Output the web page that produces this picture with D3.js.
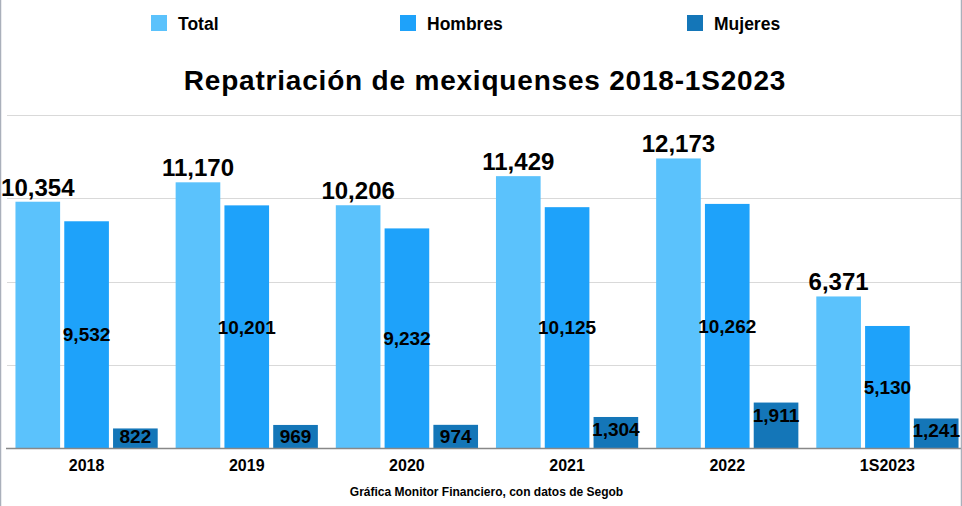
<!DOCTYPE html>
<html>
<head>
<meta charset="utf-8">
<script src="https://cdn.jsdelivr.net/npm/d3@7"></script>
<style>
  html, body { margin: 0; padding: 0; background: #fff; }
  svg { display: block; }
  text { font-family: "Liberation Sans", Arial, sans-serif; font-weight: bold; fill: #000; }
</style>
</head>
<body>
<svg id="chart" width="962" height="506"></svg>
<script>
const categories = ["2018", "2019", "2020", "2021", "2022", "1S2023"];
const seriesNames = ["Total", "Hombres", "Mujeres"];
const total   = [10354, 11170, 10206, 11429, 12173, 6371];
const hombres = [9532, 10201, 9232, 10125, 10262, 5130];
const mujeres = [822, 969, 974, 1304, 1911, 1241];
const yTicks  = [0, 3500, 7000, 10500, 14000];
const colors  = ["#5BC2FC", "#1EA2FA", "#1476B8"];
const title   = "Repatriación de mexiquenses 2018-1S2023";
const source  = "Gráfica Monitor Financiero, con datos de Segob";

const W = 962, H = 506;
const svg = d3.select("#chart");
const fmt = d3.format(",");

const plotLeft = 6.5, plotRight = 967.5, plotTop = 115, plotBottom = 448;

const x0 = d3.scaleBand().domain(categories).range([plotLeft, plotRight]).paddingInner(0.112).paddingOuter(0.056);
const x1 = d3.scaleBand().domain(seriesNames).range([0, x0.bandwidth()]).paddingInner(0.085);
const y = d3.scaleLinear().domain([0, 14000]).range([plotBottom, plotTop]);

const data = categories.map((c, i) => ({ cat: c, values: [total[i], hombres[i], mujeres[i]] }));

svg.append("defs").append("clipPath").attr("id", "clip")
  .append("rect").attr("x", 0).attr("y", 0).attr("width", 961).attr("height", H);

const g = svg.append("g").attr("clip-path", "url(#clip)");

// gridlines
g.append("g").selectAll("line").data(yTicks.filter(t => t > 0)).join("line")
  .attr("x1", 7).attr("x2", 961)
  .attr("y1", d => Math.round(y(d)) + 0.5).attr("y2", d => Math.round(y(d)) + 0.5)
  .attr("stroke", "#d9d9d9").attr("stroke-width", 1);

// bars
const groups = g.append("g").selectAll("g").data(data).join("g")
  .attr("transform", d => `translate(${x0(d.cat)},0)`);

groups.selectAll("rect").data(d => d.values.map((v, k) => ({ v, k }))).join("rect")
  .attr("x", d => x1(seriesNames[d.k]))
  .attr("width", x1.bandwidth())
  .attr("y", d => y(d.v))
  .attr("height", d => plotBottom - y(d.v))
  .attr("fill", d => colors[d.k]);

// labels
groups.each(function(d) {
  const gg = d3.select(this);
  gg.append("text")
    .attr("x", x1("Total") + x1.bandwidth() / 2)
    .attr("y", y(d.values[0]) - 6)
    .attr("text-anchor", "middle")
    .attr("font-size", 24)
    .text(fmt(d.values[0]));
  gg.append("text")
    .attr("x", x1("Hombres") + x1.bandwidth() / 2)
    .attr("y", (y(d.values[1]) + plotBottom) / 2)
    .attr("dy", "0.36em")
    .attr("text-anchor", "middle")
    .attr("font-size", 19)
    .text(fmt(d.values[1]));
  gg.append("text")
    .attr("x", x1("Mujeres") + x1.bandwidth() / 2)
    .attr("y", Math.min(y(d.values[2]) + 19, plotBottom - 5))
    .attr("text-anchor", "middle")
    .attr("font-size", 19)
    .text(fmt(d.values[2]));
});

// baseline
g.append("line").attr("x1", 6).attr("x2", 961)
  .attr("y1", plotBottom + 0.5).attr("y2", plotBottom + 0.5)
  .attr("stroke", "#888").attr("stroke-width", 1.3);

// x axis labels
const xAxis = d3.axisBottom(x0).tickSize(0).tickPadding(0);
const ax = svg.append("g").attr("transform", `translate(0,${plotBottom})`).call(xAxis);
ax.select(".domain").remove();
ax.selectAll("text").attr("font-size", 16).attr("y", 23).attr("dy", 0)
  .style("font-family", "'Liberation Sans', Arial, sans-serif").style("font-weight", "bold").attr("fill", "#000");

// title
svg.append("text").attr("x", 485).attr("y", 90).attr("text-anchor", "middle")
  .attr("font-size", 28).attr("letter-spacing", 0.8).text(title);

// source
svg.append("text").attr("x", 486.5).attr("y", 496).attr("text-anchor", "middle")
  .attr("font-size", 12).text(source);

// legend
const legendX = [151, 400, 687];
const leg = svg.append("g").selectAll("g").data(seriesNames).join("g")
  .attr("transform", (d, i) => `translate(${legendX[i]},15)`);
leg.append("rect").attr("width", 16).attr("height", 16).attr("fill", (d, i) => colors[i]);
leg.append("text").attr("x", 27).attr("y", 14.5).attr("font-size", 17.5).text(d => d);

// borders
svg.append("line").attr("x1", 0.5).attr("x2", 0.5).attr("y1", 0).attr("y2", H)
  .attr("stroke", "#aab0bb").attr("stroke-width", 1.5);
svg.append("line").attr("x1", 961.5).attr("x2", 961.5).attr("y1", 0).attr("y2", H)
  .attr("stroke", "#aab0bb").attr("stroke-width", 1.5);
</script>
</body>
</html>
